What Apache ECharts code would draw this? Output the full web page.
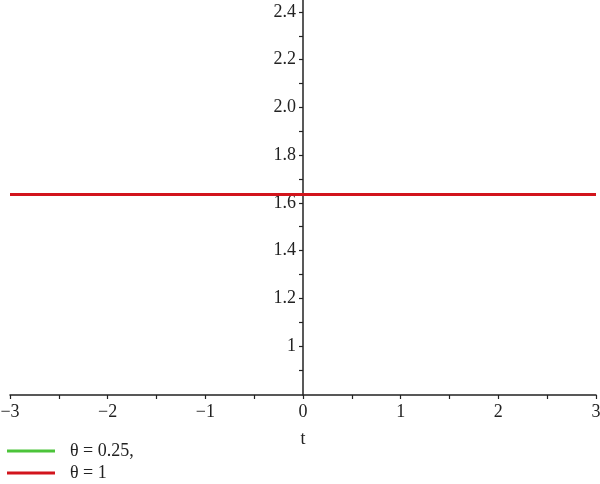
<!DOCTYPE html>
<html><head><meta charset="utf-8">
<script src="https://cdn.jsdelivr.net/npm/echarts@6/dist/echarts.min.js"></script>
<style>html,body{margin:0;padding:0;background:#fff}#c{width:600px;height:484px}</style>
</head><body><div id="c"></div>
<script>
const tValues = [-3, 3];
const seriesNames = ['θ = 0.25,', 'θ = 1'];
const greenValues = [1.635, 1.635];
const redValues = [1.635, 1.635];
const xTickLabels = [-3, -2, -1, 0, 1, 2, 3];
const xMinorTicks = [-3, -2.5, -2, -1.5, -1, -0.5, 0, 0.5, 1, 1.5, 2, 2.5, 3];
const yTickLabels = [1, 1.2, 1.4, 1.6, 1.8, 2.0, 2.2, 2.4];
const yMinorTicks = [0.9, 1, 1.1, 1.2, 1.3, 1.4, 1.5, 1.6, 1.7, 1.8, 1.9, 2.0, 2.1, 2.2, 2.3, 2.4];

const font = '"Liberation Serif", "DejaVu Serif", serif';
const gridLeft = 10, gridRight = 4, W = 600;
const xMin = -3, xMax = 3;
// place y axis at t = 0
const yAxisOffset = -((0 - xMin) / (xMax - xMin)) * (W - gridLeft - gridRight);

const chart = echarts.init(document.getElementById('c'));
chart.setOption({
  animation: false,
  backgroundColor: '#fff',
  grid: {left: gridLeft, right: gridRight, top: 0, bottom: 89, containLabel: false, outerBoundsMode: 'none'},
  legend: {
    orient: 'vertical', left: 7, top: 442, itemGap: 4, padding: 0,
    itemWidth: 48, itemHeight: 16, icon: 'path://M0,6.5 L48,6.5 L48,9.5 L0,9.5 Z',
    textStyle: {fontFamily: font, fontSize: 18, color: '#222', padding: [0,0,0,10]},
    data: seriesNames
  },
  xAxis: {
    type: 'value', min: xMin, max: xMax,
    name: 't', nameLocation: 'middle', nameGap: 35,
    nameTextStyle: {fontFamily: font, fontSize: 18, color: '#222'},
    axisLine: {onZero: false, lineStyle: {color: '#222', width: 1.5}},
    axisTick: {show: true, inside: false, length: 4, customValues: xMinorTicks, lineStyle: {color: '#222', width: 1.2}},
    axisLabel: {customValues: xTickLabels, fontFamily: font, fontSize: 18, color: '#222', margin: 8,
      formatter: v => String(v).replace('-', '\u2212')},
    splitLine: {show: false}
  },
  yAxis: {
    type: 'value', min: 0.795, max: 2.45, offset: yAxisOffset,
    axisLine: {onZero: false, lineStyle: {color: '#222', width: 1.5}},
    axisTick: {show: true, length: 4, customValues: yMinorTicks, lineStyle: {color: '#222', width: 1.2}},
    axisLabel: {customValues: yTickLabels, fontFamily: font, fontSize: 18, color: '#222', margin: 7,
      formatter: v => (Math.abs(v - 1) < 1e-9 ? '1' : v.toFixed(1))},
    splitLine: {show: false}
  },
  series: [
    {name: seriesNames[0], type: 'line', showSymbol: false, color: '#4cc43a',
      lineStyle: {width: 3, color: '#4cc43a'},
      data: tValues.map((t, i) => [t, greenValues[i]])},
    {name: seriesNames[1], type: 'line', showSymbol: false, color: '#d2141c',
      lineStyle: {width: 3, color: '#d2141c'},
      data: tValues.map((t, i) => [t, redValues[i]])}
  ]
});
</script></body></html>
